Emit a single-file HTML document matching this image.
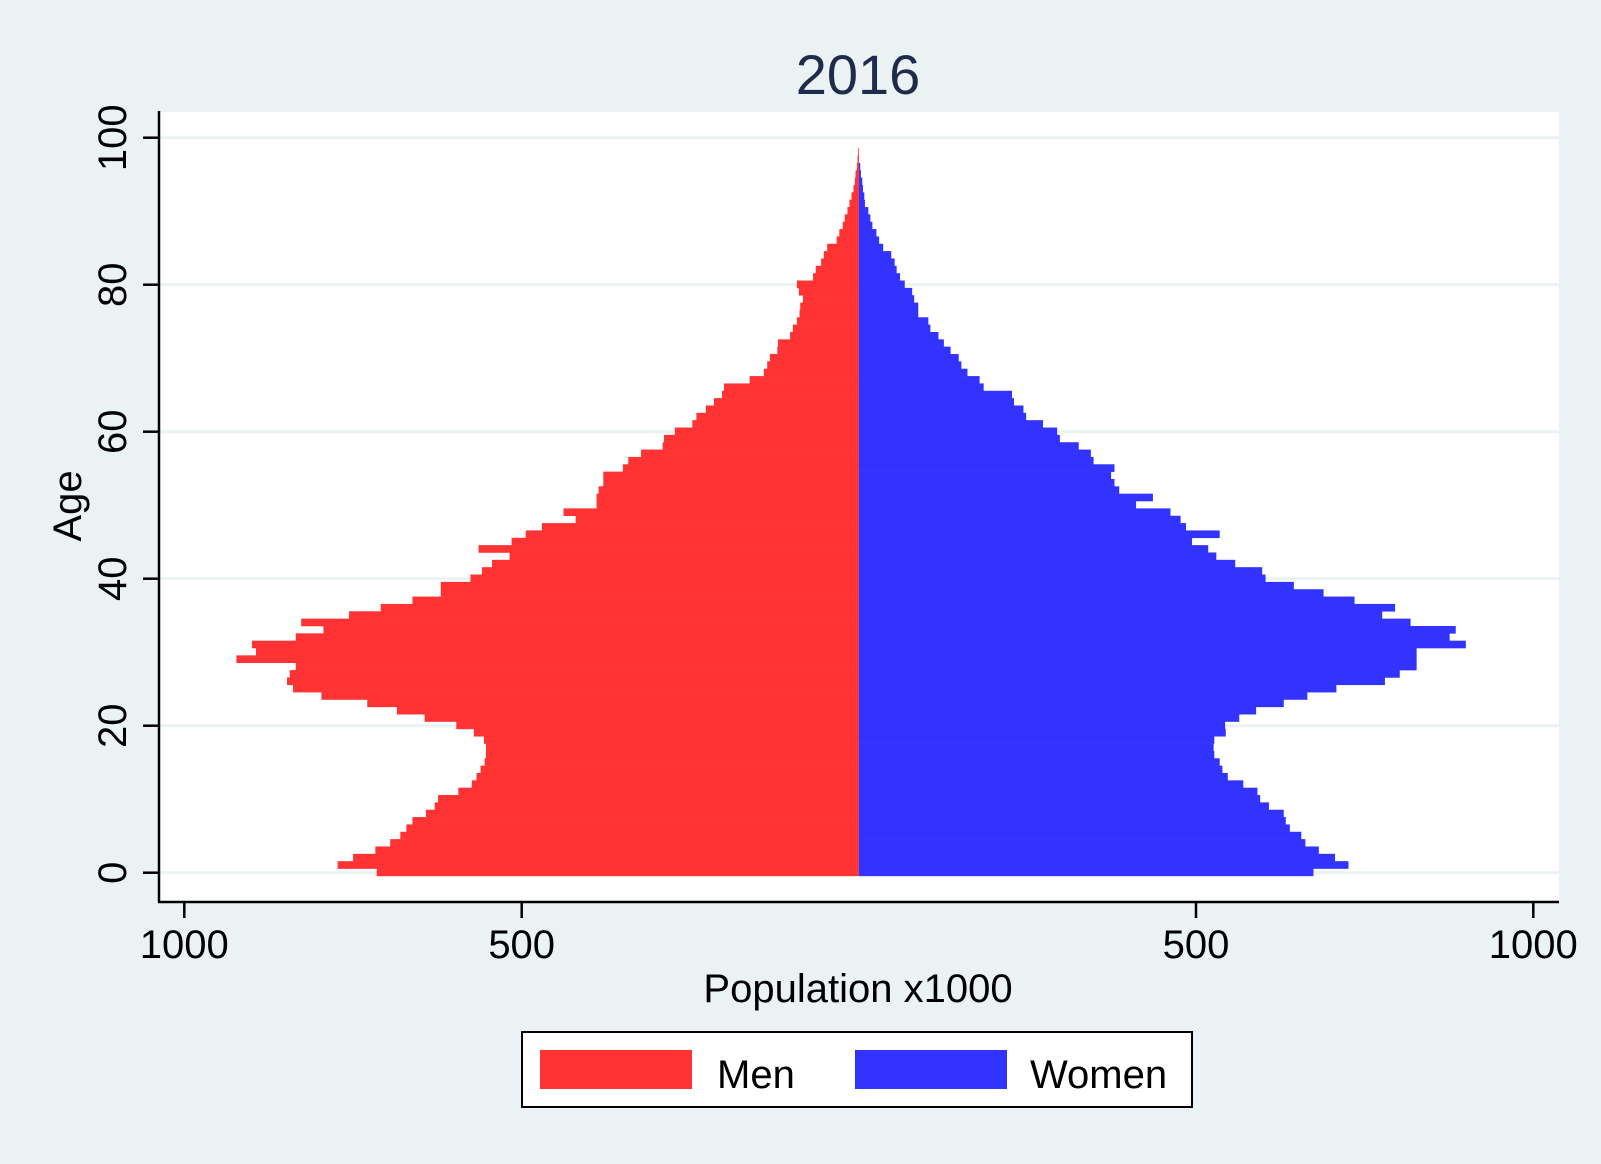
<!DOCTYPE html>
<html><head><meta charset="utf-8"><style>
html,body{margin:0;padding:0;background:#eaf2f3;}
svg{display:block;font-family:"Liberation Sans",Arial,sans-serif;}
</style></head><body>
<svg id="s" width="1601" height="1164" viewBox="0 0 1601 1164" xmlns="http://www.w3.org/2000/svg">
<rect x="0" y="0" width="1601" height="1164" fill="#eaf2f3"/>
<rect x="159" y="112" width="1400" height="790" fill="#ffffff"/>
<g id="grid" stroke="#eaf2f3" stroke-width="3"></g>
<g id="bars"></g>
<g stroke="#000" stroke-width="2.5" fill="none">
<line x1="159" y1="111" x2="159" y2="902"/>
<line x1="158" y1="902" x2="1559" y2="902"/>
</g>
<g id="ticks" stroke="#000" stroke-width="2.5"></g>
<g id="labels" font-size="40" fill="#000"></g>
<text x="858" y="94" font-size="56" text-anchor="middle" fill="#1e2b4a">2016</text>
<text x="858" y="1002" font-size="40" text-anchor="middle">Population x1000</text>
<text transform="translate(81,506) rotate(-90)" font-size="40" text-anchor="middle">Age</text>
<rect x="522" y="1032" width="670" height="75" fill="#fff" stroke="#000" stroke-width="2"/>
<rect x="540" y="1050" width="152" height="39" fill="#ff3333"/>
<rect x="855" y="1050" width="152" height="39" fill="#3333ff"/>
<text x="717" y="1088" font-size="40">Men</text>
<text x="1030" y="1088" font-size="40">Women</text>
</svg>
<script>
var NS="http://www.w3.org/2000/svg";
function el(p,t,a,txt){var e=document.createElementNS(NS,t);for(var k in a)e.setAttribute(k,a[k]);if(txt!==undefined)e.textContent=txt;document.getElementById(p).appendChild(e);return e;}
var cx=858.9,sc=0.6744;function Y(a){return 872.7-7.35*a;}
for(var a=0;a<=100;a+=20){el("grid","line",{x1:160,x2:1559,y1:Y(a),y2:Y(a)});
el("ticks","line",{x1:143,x2:159,y1:Y(a),y2:Y(a)});
el("labels","text",{transform:"translate(126,"+Y(a)+") rotate(-90)","text-anchor":"middle"},String(a));}
[[184.3,"1000"],[521.7,"500"],[1196,"500"],[1533.3,"1000"]].forEach(function(t){
el("ticks","line",{x1:t[0],x2:t[0],y1:902,y2:918});
el("labels","text",{x:t[0],y:958,"text-anchor":"middle"},t[1]);});
var men=[715,773,750,717,695,680,671,662,642,629,624,594,574,567,561,555,553,553,556,571,597,644,685,729,797,839,848,844,835,923,894,900,835,794,827,756,709,662,620,620,576,559,544,518,564,515,494,470,420,438,389,389,386,379,379,350,342,323,291,289,273,247,241,227,215,203,200,162,141,136,132,121,120,102,98,92,88,87,83,89,92,68,64,56,52,47,33,29,24,21,17,14,11,8,6,5,3,2,1.2];
var wom=[674,726,706,682,662,656,639,633,630,608,595,591,570,547,539,535,527,526,527,544,543,564,589,630,665,708,780,802,827,827,827,900,876,885,818,776,795,735,689,645,603,598,558,530,518,494,535,485,477,462,411,436,386,379,374,379,348,344,326,298,294,273,248,244,230,227,185,179,161,152,148,136,126,118,106,103,88,88,82,79,68,61,56,53,48,36,30,26,20,17,14,9,8,6,5,3,2];
var h=7.35;
men.forEach(function(v,a){var w=v*sc;el("bars","rect",{x:cx-w,y:Y(a)-h/2-0.5,width:w,height:h+0.3,fill:"#ff3333"});});
wom.forEach(function(v,a){var w=v*sc;el("bars","rect",{x:cx,y:Y(a)-h/2-0.5,width:w,height:h+0.3,fill:"#3333ff"});});
</script>
</body></html>
